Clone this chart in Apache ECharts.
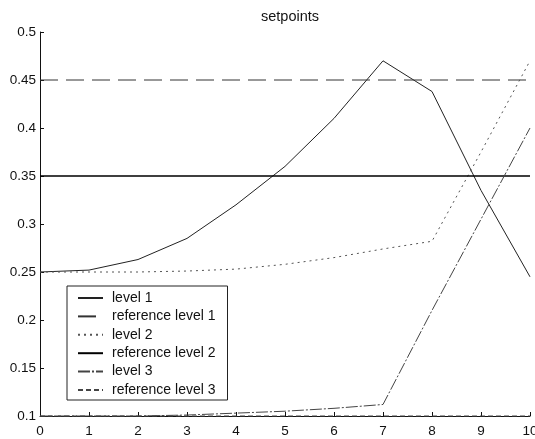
<!DOCTYPE html>
<html>
<head>
<meta charset="utf-8">
<script src="https://cdn.jsdelivr.net/npm/echarts@6/dist/echarts.min.js"></script>
<style>
  html, body { margin: 0; padding: 0; background: #fff; }
  #chart { width: 535px; height: 439px; }
</style>
</head>
<body>
<div id="chart"></div>
<script>
// time steps along the x axis
const steps = [0, 1, 2, 3, 4, 5, 6, 7, 8, 9, 10];

// measured levels
const level1 = [0.250, 0.252, 0.263, 0.285, 0.320, 0.360, 0.410, 0.470, 0.438, 0.335, 0.245];
const level2 = [0.250, 0.250, 0.250, 0.251, 0.253, 0.258, 0.265, 0.274, 0.282, 0.375, 0.470];
const level3 = [0.100, 0.100, 0.100, 0.101, 0.103, 0.105, 0.108, 0.112, 0.210, 0.305, 0.400];

// setpoint references
const refLevel1 = [0.45, 0.45, 0.45, 0.45, 0.45, 0.45, 0.45, 0.45, 0.45, 0.45, 0.45];
const refLevel2 = [0.35, 0.35, 0.35, 0.35, 0.35, 0.35, 0.35, 0.35, 0.35, 0.35, 0.35];
const refLevel3 = [0.10, 0.10, 0.10, 0.10, 0.10, 0.10, 0.10, 0.10, 0.10, 0.10, 0.10];

const seriesNames = ['level 1', 'reference level 1', 'level 2', 'reference level 2', 'level 3', 'reference level 3'];
const xTicks = ['0', '1', '2', '3', '4', '5', '6', '7', '8', '9', '10'];

const FONT = 'Liberation Sans, Arial, sans-serif';

function pairs(values) {
  return steps.map((x, i) => [x, values[i]]);
}

function lineSeries(name, values, style) {
  return {
    name: name,
    type: 'line',
    data: pairs(values),
    symbol: 'none',
    showSymbol: false,
    animation: false,
    clip: false,
    lineStyle: style,
    itemStyle: { color: style.color }
  };
}

const chart = echarts.init(document.getElementById('chart'), null, { renderer: 'canvas' });

chart.setOption({
  backgroundColor: '#ffffff',
  animation: false,
  title: {
    text: 'setpoints',
    left: 285,
    textAlign: 'center',
    top: 4,
    textStyle: { fontFamily: FONT, fontSize: 14.5, fontWeight: 'normal', color: '#111' }
  },
  grid: { left: 40, right: 5, top: 32, bottom: 23, containLabel: false, outerBoundsMode: 'none' },
  xAxis: {
    type: 'value',
    min: 0,
    max: 10,
    interval: 1,
    axisLine: { show: true, lineStyle: { color: '#111', width: 1 } },
    axisTick: { show: true, inside: true, length: 4, lineStyle: { color: '#111' } },
    splitLine: { show: false },
    axisLabel: {
      margin: 8,
      fontFamily: FONT,
      fontSize: 13.5,
      lineHeight: 14,
      color: '#111',
      showMaxLabel: true,
      hideOverlap: false,
      formatter: v => xTicks[Math.round(v)]
    }
  },
  yAxis: {
    type: 'value',
    min: 0.1,
    max: 0.5,
    interval: 0.05,
    axisLine: { show: true, lineStyle: { color: '#111', width: 1 } },
    axisTick: { show: true, inside: true, length: 4, lineStyle: { color: '#111' } },
    splitLine: { show: false },
    axisLabel: {
      margin: 4,
      fontFamily: FONT,
      fontSize: 13.5,
      color: '#111',
      formatter: v => String(parseFloat(v.toFixed(2)))
    }
  },
  legend: {
    orient: 'vertical',
    left: 67,
    top: 286,
    data: seriesNames,
    itemWidth: 25,
    itemHeight: 14,
    itemGap: 4.4,
    padding: [5, 12, 3, 10],
    borderColor: '#222',
    borderWidth: 1,
    backgroundColor: '#fff',
    itemStyle: { opacity: 0, borderWidth: 0 },
    textStyle: { fontFamily: FONT, fontSize: 14, color: '#111', padding: [0, 0, 0, 4] }
  },
  series: [
    lineSeries(seriesNames[0], level1, { color: '#222', width: 1, type: 'solid' }),
    lineSeries(seriesNames[1], refLevel1, { color: '#333', width: 1, type: [18, 8] }),
    lineSeries(seriesNames[2], level2, { color: '#555', width: 1, type: [2, 4] }),
    lineSeries(seriesNames[3], refLevel2, { color: '#000', width: 1.6, type: 'solid' }),
    lineSeries(seriesNames[4], level3, { color: '#444', width: 1, type: [12, 2, 2, 2] }),
    lineSeries(seriesNames[5], refLevel3, { color: '#444', width: 1, type: [5, 3] })
  ]
});
</script>
</body>
</html>
